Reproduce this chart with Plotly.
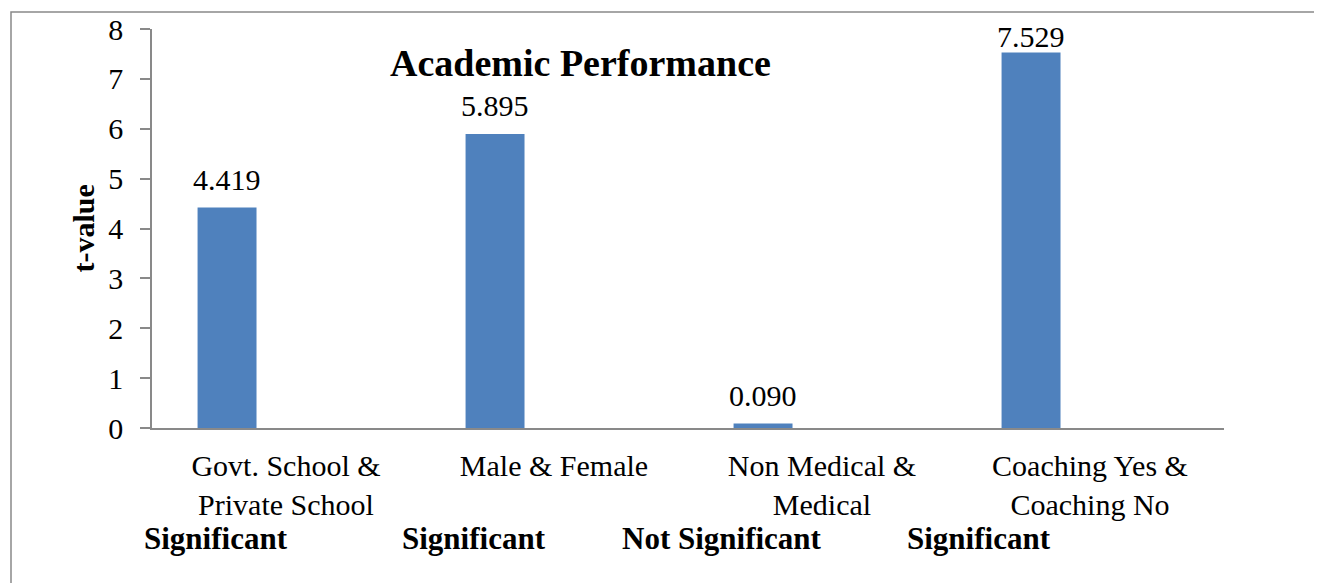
import plotly.graph_objects as go

# data
categories = ['Govt. School &<br>Private School', 'Male & Female',
              'Non Medical &<br>Medical', 'Coaching Yes &<br>Coaching No']
t_values = [4.419, 5.895, 0.090, 7.529]
value_labels = ['4.419', '5.895', '0.090', '7.529']
significance = ['Significant', 'Significant', 'Not Significant', 'Significant']

bar_color = '#4F81BD'
axis_color = '#898989'
serif = 'Liberation Serif, Times New Roman, serif'

# the page puts the figure 8px in from the top left corner
OFF = 8
W, H = 1322 - OFF, 583 - OFF
L, R, T, B = 152 - OFF, 98, 29 - OFF, 155
plot_w = W - L - R
plot_h = H - T - B
y_max = 8


def px_to_paper_x(px):
    return (px - OFF - L) / plot_w


def px_to_paper_y(py):
    return (H - B - (py - OFF)) / plot_h


fig = go.Figure()
fig.add_trace(
    go.Bar(
        x=list(range(len(categories))),
        y=t_values,
        width=0.22,
        offset=-0.33,
        marker=dict(color=bar_color, line=dict(width=0)),
        hoverinfo='skip',
    )
)

# value labels above each bar, kept inside the chart area like Excel does
label_h = 38
min_top = 17 - OFF
for i, (v, lab) in enumerate(zip(t_values, value_labels)):
    bar_top = T + plot_h * (1 - v / y_max)
    shift = min(10, bar_top - min_top - label_h)
    fig.add_annotation(
        x=i - 0.22, y=v, text=lab, showarrow=False,
        xref='x', yref='y', yanchor='bottom', yshift=shift,
        font=dict(family=serif, size=30, color='black'),
    )

# significance row under the category labels
sig_left_px = [142, 400, 620, 905]
for s, lx in zip(significance, sig_left_px):
    fig.add_annotation(
        x=px_to_paper_x(lx), y=px_to_paper_y(538), xref='paper', yref='paper',
        text='<b>%s</b>' % s, showarrow=False, xanchor='left', yanchor='middle',
        font=dict(family=serif, size=31, color='black'),
    )

# y axis title
fig.add_annotation(
    x=px_to_paper_x(83), y=0.5, xref='paper', yref='paper',
    text='<b>t-value</b>', textangle=-90, showarrow=False,
    xanchor='center', yanchor='middle',
    font=dict(family=serif, size=30, color='black'),
)

# chart title
fig.add_annotation(
    x=px_to_paper_x(580), y=px_to_paper_y(63), xref='paper', yref='paper',
    text='<b>Academic Performance</b>', showarrow=False,
    xanchor='center', yanchor='middle',
    font=dict(family=serif, size=38, color='black'),
)

# outer chart border (left and top visible)
fig.add_shape(
    type='rect', xref='paper', yref='paper',
    x0=px_to_paper_x(11), x1=px_to_paper_x(1340),
    y0=px_to_paper_y(600), y1=px_to_paper_y(12),
    line=dict(color=axis_color, width=1.5), fillcolor='rgba(0,0,0,0)',
    layer='below',
)

fig.update_layout(
    template='none',
    width=W, height=H,
    margin=dict(l=L, r=R, t=T, b=B, pad=0),
    plot_bgcolor='white', paper_bgcolor='white',
    showlegend=False,
    font=dict(family=serif, size=30, color='black'),
)

fig.update_xaxes(
    range=[-0.5, len(categories) - 0.5],
    tickmode='array', tickvals=list(range(len(categories))), ticktext=categories,
    showline=True, linecolor=axis_color, linewidth=1.5,
    ticks='', showgrid=False, zeroline=False, automargin=False,
    ticklabelstandoff=10,
    tickfont=dict(family=serif, size=30, color='black'),
)

fig.update_yaxes(
    range=[0, y_max], dtick=1, tick0=0,
    showline=True, linecolor=axis_color, linewidth=1.5,
    ticks='outside', ticklen=10, tickcolor=axis_color, tickwidth=1.5,
    showgrid=False, zeroline=False, automargin=False,
    ticklabelstandoff=11,
    tickfont=dict(family=serif, size=30, color='black'),
)

fig.write_html("out.html")
